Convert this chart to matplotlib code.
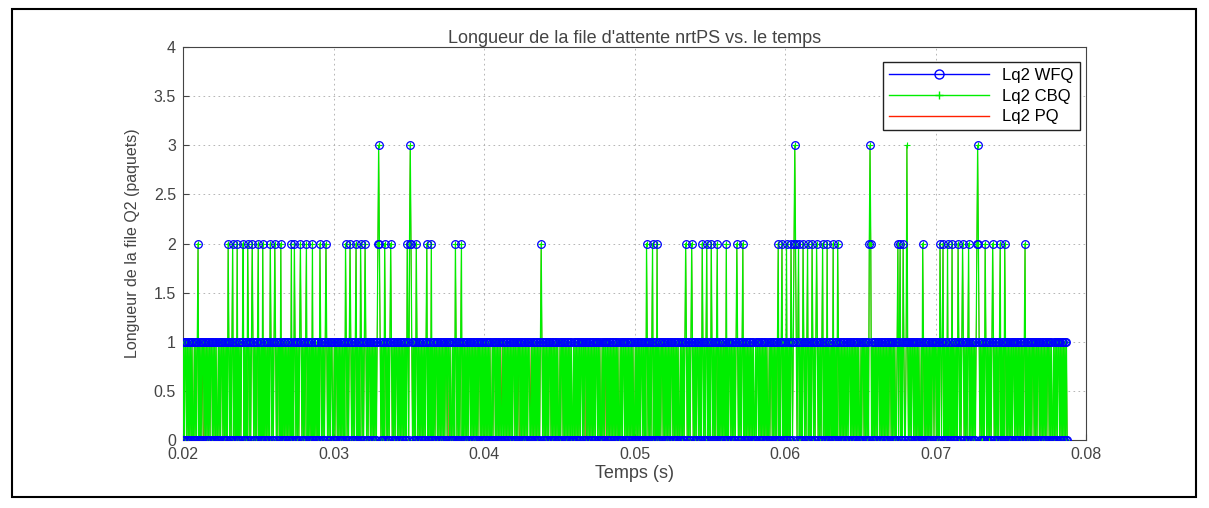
import numpy as np
import matplotlib
matplotlib.use("Agg")
import matplotlib.pyplot as plt
from matplotlib.patches import Rectangle
from matplotlib.lines import Line2D

plt.rcParams['font.family'] = ['Liberation Sans', 'DejaVu Sans']

# ---- data -------------------------------------------------------------
T_START = 0.02          # first sample time (s)
T_STEP = 0.00005        # sampling step (s)

# queue length Q2 for CBQ, one digit per sample
CBQ_A = ("0101101010" "1010010101" "2010101101" "0101010110" "1010100101"
         "0110101010" "2101012010" "1020101011" "2010102101" "0121010101"
         "2010102010" "1010102101" "0121010110" "2010101010" "1010201021"
         "0101012101" "0101201010" "1020101010" "1021010101" "2101010110")
CBQ_B = ("0101101010" "1010102101" "0121010101" "2010102101" "0121010110"
         "1010101012" "3210101021" "0101012101" "0101101010" "1010101021"
         "0232101010" "2101010101" "0101201010" "2010101101" "0101010101"
         "1011010010" "1021010101" "2010101010" "1101010101" "0101101010")
CBQ_C = ("1010101010" "0101101010" "1010010101" "0101010101" "1010101101"
         "0101010101" "1001010101" "0101012101" "0101010110" "1010101010"
         "0101101010" "1010101001" "0101010101" "1010110101" "0101010101"
         "1010100101" "0110101010" "1010101010" "0101011010" "1010101010")
CBQ_D = ("0101010101" "1010102101" "0101201010" "2010101101" "0101010101"
         "1010101010" "0101010121" "0101012101" "0101101010" "2101012010"
         "1021010101" "2010101010" "1020101101" "0101012101" "0101201010"
         "1010101010" "0101101010" "1010101001" "0110101010" "1201012010")
CBQ_E = ("1020101021" "0123210120" "1010210101" "2010102101" "0121010101"
         "2010102010" "1010201010" "2101010101" "0101011010" "1010101010"
         "0101101010" "1023201010" "1010110101" "0101010101" "1010101001"
         "2012010210" "0131010101" "1010101010" "0102101010" "1010101101")
CBQ_F = ("1010102101" "2010102010" "1020101010" "2101012101" "0101201010"
         "1010123210" "1010102101" "0101012101" "0101012010" "1021010101"
         "0101101010" "1010101012" "0101010101" "1010101101" "0101010101"
         "1010100101" "0101101010" "101010")

# WFQ / PQ differ from CBQ only at these samples (index: value)
WFQ_DIFF = {962: 1}
PQ_DIFF = {27: 0, 353: 0, 424: 1, 447: 0, 461: 1, 535: 0, 562: 0,
           601: 1, 884: 1, 1102: 0}

X_TICKS = [0.02, 0.03, 0.04, 0.05, 0.06, 0.07, 0.08]
Y_TICKS = [0, 0.5, 1, 1.5, 2, 2.5, 3, 3.5, 4]
Y_TICK_LABELS = ['0', '0.5', '1', '1.5', '2', '2.5', '3', '3.5', '4']

TITLE = "Longueur de la file d'attente nrtPS vs. le temps"
XLABEL = "Temps (s)"
YLABEL = "Longueur de la file Q2 (paquets)"
LEGEND = ["Lq2 WFQ", "Lq2 CBQ", "Lq2 PQ"]

# ---- build series ----------------------------------------------------------
cbq = np.array([int(c) for c in CBQ_A + CBQ_B + CBQ_C + CBQ_D + CBQ_E + CBQ_F], float)
wfq = cbq.copy()
for k, v in WFQ_DIFF.items():
    wfq[k] = v
pq = cbq.copy()
for k, v in PQ_DIFF.items():
    pq[k] = v
t = T_START + T_STEP * np.arange(len(cbq))

# ---- figure ------------------------------------------------------------
W, H = 1209, 508
fig = plt.figure(figsize=(W / 100, H / 100), dpi=100)
fig.patch.set_facecolor('white')
fig.add_artist(Rectangle((12 / W, 1 - 497 / H), (1196 - 12) / W, (497 - 9) / H,
                         transform=fig.transFigure, fill=False,
                         edgecolor='black', linewidth=1.5))

ax = fig.add_axes([183 / W, 1 - 440 / H, (1086 - 183) / W, (440 - 47) / H])

BLUE, GREEN, RED = '#0000ff', '#00ee00', '#ff2000'
ax.plot(t, pq, color=RED, lw=0.5, zorder=2)
ax.plot(t, cbq, color=GREEN, lw=0.9, marker='+', ms=4, mew=0.8, zorder=3)
ax.plot(t, wfq, color=BLUE, lw=0, marker='o', ms=5.5, mfc='none',
        mew=0.9, zorder=4)

ax.set_xlim(0.02, 0.08)
ax.set_ylim(0, 4)
ax.set_xticks(X_TICKS)
ax.set_xticklabels([f"{v:.2f}" for v in X_TICKS])
ax.set_yticks(Y_TICKS)
ax.set_yticklabels(Y_TICK_LABELS)
ax.tick_params(direction='in', labelsize=11.5, colors='#444444', length=4, pad=5)
ax.grid(True, linestyle=(0, (2, 4)), color='#aaaaaa', linewidth=0.6)
ax.set_axisbelow(True)
for s in ax.spines.values():
    s.set_color('#444444')
    s.set_linewidth(0.8)

ax.set_title(TITLE, fontsize=13, color='#444444', pad=3)
ax.set_xlabel(XLABEL, fontsize=13, color='#444444', labelpad=2)
ax.set_ylabel(YLABEL, fontsize=11.5, color='#444444', labelpad=10)

handles = [
    Line2D([], [], color=BLUE, lw=1, marker='o', ms=6.5, mfc='none'),
    Line2D([], [], color=GREEN, lw=1, marker='+', ms=6),
    Line2D([], [], color=RED, lw=1),
]
leg = ax.legend(handles, LEGEND, loc='upper right', bbox_to_anchor=(0.993, 0.962),
                borderaxespad=0, fontsize=12, handlelength=6, frameon=True,
                fancybox=False, edgecolor='#222222', framealpha=1,
                borderpad=0.35, labelspacing=0.35, handletextpad=0.8)
leg.get_frame().set_linewidth(1.0)
leg.set_zorder(10)

fig.savefig('out.png', dpi=100, facecolor='white')
